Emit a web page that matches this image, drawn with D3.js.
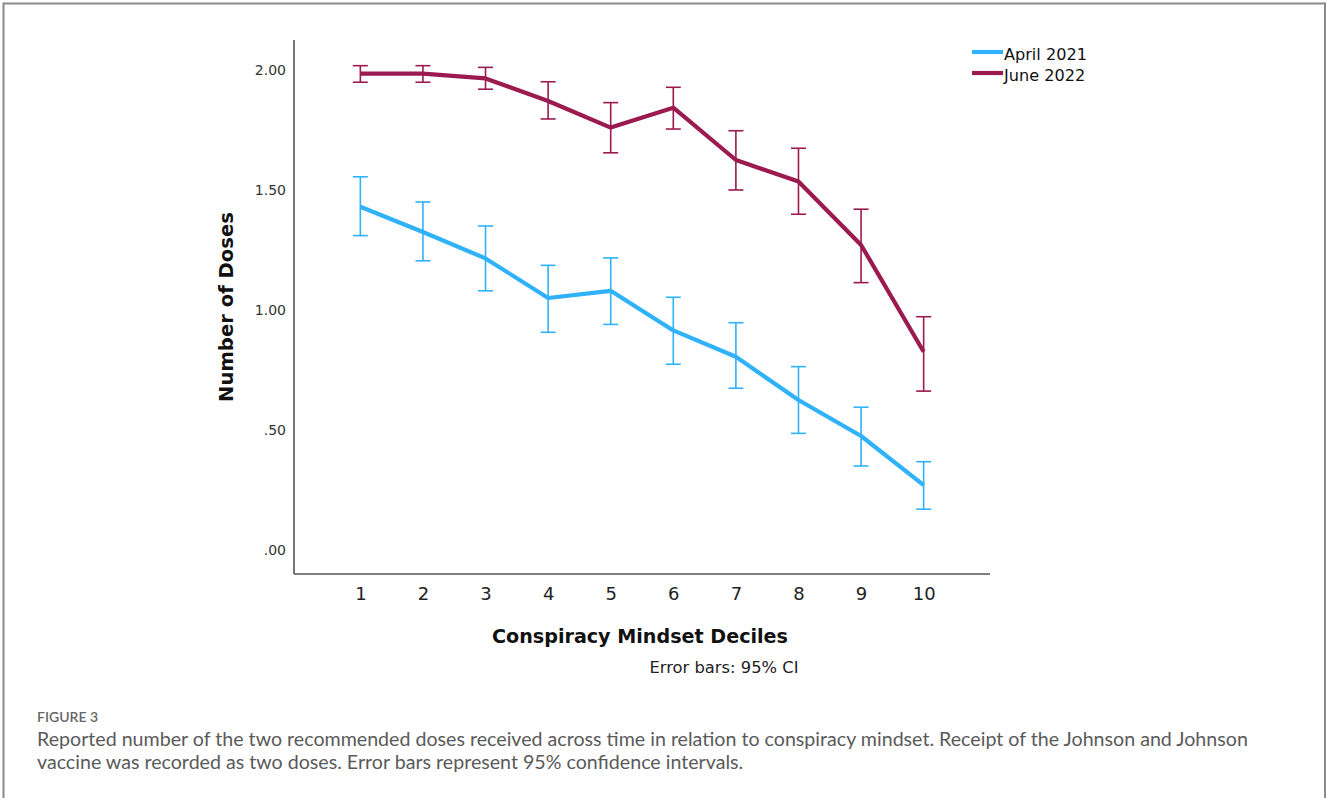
<!DOCTYPE html>
<html>
<head>
<meta charset="utf-8">
<script src="https://cdn.jsdelivr.net/npm/d3@7"></script>
<style>
  html, body { margin: 0; padding: 0; background: #fff; }
  svg { display: block; }
</style>
</head>
<body>
<svg id="chart" width="1327" height="798"></svg>
<script>
// ---- data ----
const deciles = [1, 2, 3, 4, 5, 6, 7, 8, 9, 10];
const seriesNames = ["April 2021", "June 2022"];
const april2021Mean  = [1.43, 1.325, 1.215, 1.05, 1.08, 0.915, 0.805, 0.625, 0.475, 0.27];
const april2021Lower = [1.31, 1.205, 1.08, 0.907, 0.94, 0.774, 0.674, 0.486, 0.35, 0.17];
const april2021Upper = [1.555, 1.45, 1.35, 1.186, 1.217, 1.053, 0.947, 0.764, 0.595, 0.368];
const june2022Mean  = [1.985, 1.985, 1.965, 1.871, 1.76, 1.843, 1.625, 1.535, 1.271, 0.826];
const june2022Lower = [1.949, 1.949, 1.92, 1.796, 1.655, 1.754, 1.5, 1.399, 1.114, 0.662];
const june2022Upper = [2.018, 2.018, 2.011, 1.951, 1.864, 1.928, 1.747, 1.674, 1.42, 0.972];
const yTickValues = [0, 0.5, 1.0, 1.5, 2.0];
const yTickLabels = [".00", ".50", "1.00", "1.50", "2.00"];
const xTitle = "Conspiracy Mindset Deciles";
const yTitle = "Number of Doses";
const note = "Error bars: 95% CI";
const figLabel = "FIGURE 3";
const captionLines = [
  "Reported number of the two recommended doses received across time in relation to conspiracy mindset. Receipt of the Johnson and Johnson",
  "vaccine was recorded as two doses. Error bars represent 95% confidence intervals."
];

const colors = ["#2fb2fa", "#9b1a50"];

const series = [
  { name: seriesNames[0], mean: april2021Mean, lo: april2021Lower, hi: april2021Upper, color: colors[0] },
  { name: seriesNames[1], mean: june2022Mean, lo: june2022Lower, hi: june2022Upper, color: colors[1] }
];

const svg = d3.select("#chart");
const chartFont = "'DejaVu Sans', Verdana, sans-serif";

// scale a text's font size so that it spans the given width
function fitWidth(sel, base, width) {
  const w = sel.node().getComputedTextLength();
  sel.attr("font-size", base * width / w);
  return sel;
}

// frame
svg.append("rect")
  .attr("x", 3.5).attr("y", 3.5)
  .attr("width", 1321.5).attr("height", 820)
  .attr("fill", "none").attr("stroke", "#8a8a8a").attr("stroke-width", 2);

// scales
const plotLeft = 294, plotRight = 990, plotTop = 40, plotBottom = 574;
const x = d3.scalePoint().domain(deciles).range([plotLeft, plotRight]).padding(1.06);
const y = d3.scaleLinear().domain([-0.1, 2.125]).range([plotBottom, plotTop]);

// axes
const xAxis = svg.append("g")
  .attr("transform", `translate(0,${plotBottom})`)
  .call(d3.axisBottom(x).tickSize(0).tickPadding(13));
xAxis.select(".domain").attr("stroke", "#555").attr("stroke-width", 1.6).attr("d", `M${plotLeft},0H${plotRight}`);
xAxis.selectAll("text").attr("font-family", chartFont).attr("font-size", 18).attr("fill", "#222");

const yAxis = svg.append("g")
  .attr("transform", `translate(${plotLeft},0)`)
  .call(d3.axisLeft(y).tickValues(yTickValues).tickSize(0).tickPadding(8)
    .tickFormat((d, i) => yTickLabels[i]));
yAxis.select(".domain").attr("stroke", "#555").attr("stroke-width", 1.6).attr("d", `M0,${plotBottom}V${plotTop}`);
yAxis.selectAll("text").attr("font-family", chartFont).attr("font-size", 14).attr("fill", "#333");

// titles
fitWidth(svg.append("text")
  .attr("x", 640).attr("y", 643)
  .attr("text-anchor", "middle")
  .attr("font-family", chartFont).attr("font-weight", "bold").attr("font-size", 19)
  .attr("fill", "#111").text(xTitle), 19, 296);

fitWidth(svg.append("text")
  .attr("transform", "translate(233,307) rotate(-90)")
  .attr("text-anchor", "middle")
  .attr("font-family", chartFont).attr("font-weight", "bold").attr("font-size", 19)
  .attr("fill", "#111").text(yTitle), 19, 190);

fitWidth(svg.append("text")
  .attr("x", 724).attr("y", 673)
  .attr("text-anchor", "middle")
  .attr("font-family", chartFont).attr("font-size", 15)
  .attr("fill", "#222").text(note), 15, 149);

// error bars
const cap = 7.5;
series.forEach(s => {
  const g = svg.append("g").attr("stroke", s.color).attr("stroke-width", 1.6).attr("fill", "none");
  deciles.forEach((d, i) => {
    const cx = x(d);
    g.append("line").attr("x1", cx).attr("x2", cx).attr("y1", y(s.lo[i])).attr("y2", y(s.hi[i]));
    g.append("line").attr("x1", cx - cap).attr("x2", cx + cap).attr("y1", y(s.lo[i])).attr("y2", y(s.lo[i]));
    g.append("line").attr("x1", cx - cap).attr("x2", cx + cap).attr("y1", y(s.hi[i])).attr("y2", y(s.hi[i]));
  });
});

// lines
const line = d3.line().x(d => x(d[0])).y(d => y(d[1]));
series.forEach(s => {
  svg.append("path")
    .datum(deciles.map((d, i) => [d, s.mean[i]]))
    .attr("d", line)
    .attr("fill", "none")
    .attr("stroke", s.color)
    .attr("stroke-width", 4.2)
    .attr("stroke-linejoin", "round");
});

// legend
const legend = svg.append("g");
let legendSize = 16;
series.forEach((s, i) => {
  const ly = 52 + i * 21;
  legend.append("line")
    .attr("x1", 972).attr("x2", 1003).attr("y1", ly).attr("y2", ly)
    .attr("stroke", s.color).attr("stroke-width", 4.2);
  const t = legend.append("text")
    .attr("x", 1004).attr("y", ly + 7.5)
    .attr("font-family", chartFont).attr("font-size", 16)
    .attr("fill", "#111").text(s.name);
  if (i === 0) { fitWidth(t, 16, 83); legendSize = +t.attr("font-size"); }
  else t.attr("font-size", legendSize);
});

// caption
const capFont = "Lato, 'Open Sans', sans-serif";
svg.append("text")
  .attr("x", 37).attr("y", 722)
  .attr("font-family", capFont).attr("font-size", 14).attr("font-weight", 600)
  .attr("fill", "#666").text(figLabel);

const capTexts = captionLines.map((t, i) => svg.append("text")
  .attr("x", 37).attr("y", 746 + i * 22.5)
  .attr("font-family", capFont).attr("font-size", 17)
  .attr("fill", "#5a5a5a").text(t));
// fit first line to its width in the reference, apply same size to both
const measured = capTexts[0].node().getComputedTextLength();
const fs = 17 * 1212 / measured;
capTexts.forEach(t => t.attr("font-size", fs));
</script>
</body>
</html>
